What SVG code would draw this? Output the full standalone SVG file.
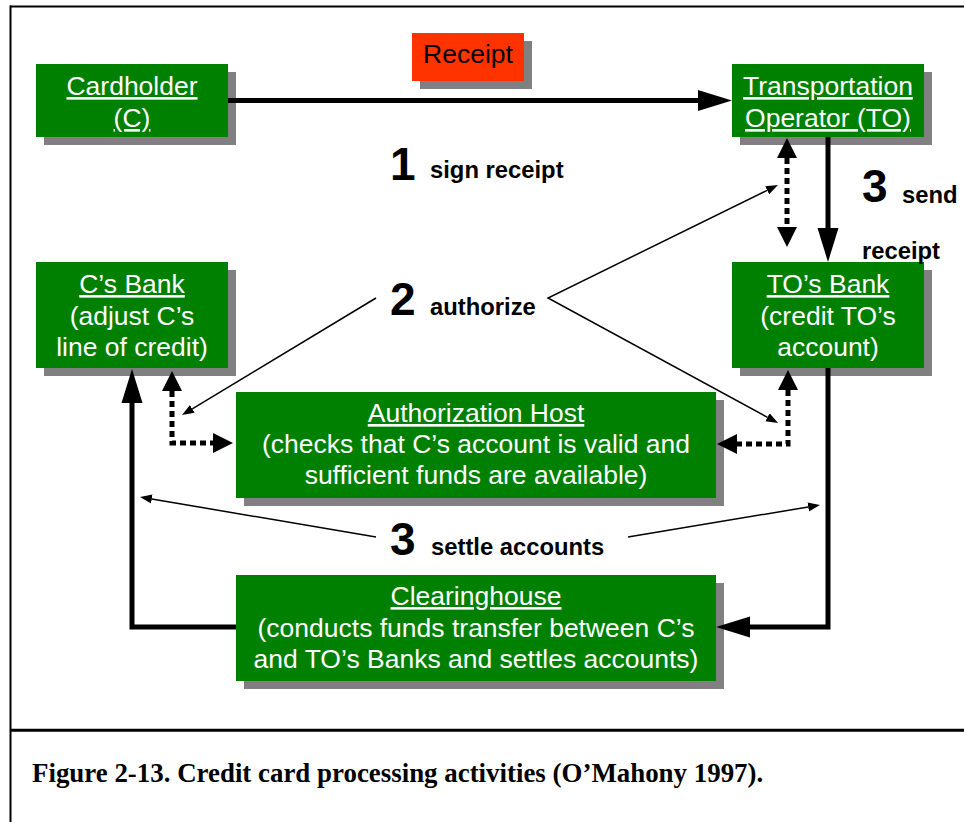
<svg xmlns="http://www.w3.org/2000/svg" width="964" height="822" viewBox="0 0 964 822">
  <style>
    .box { fill: #008000; }
    .shadow { fill: #808080; }
    .receipt { fill: #ff3300; }
    .nt { font-family: "Liberation Sans", Arial, sans-serif; font-size: 26.5px; fill: #ffffff; text-anchor: middle; }
    .u { text-decoration: underline; }
    .big { font-family: "Liberation Sans", Arial, sans-serif; font-weight: bold; font-size: 46px; fill: #000000; }
    .lbl { font-family: "Liberation Sans", Arial, sans-serif; font-weight: bold; font-size: 23.8px; fill: #000000; }
    .cap { font-family: "Liberation Serif", "Times New Roman", serif; font-weight: bold; font-size: 26.9px; fill: #000000; }
    .thick { fill: none; stroke: #000000; stroke-width: 5; }
    .dotted { fill: none; stroke: #000000; stroke-width: 5; stroke-dasharray: 6 4; }
    .thin { fill: none; stroke: #000000; stroke-width: 1.5; }
    .frame { fill: none; stroke: #000000; }
  </style>
  <defs>
    <marker id="bigHead" markerUnits="userSpaceOnUse" markerWidth="36" markerHeight="24" viewBox="0 -12 36 24" refX="0" refY="0" orient="auto-start-reverse">
      <path d="M0,-10.5 L34,0 L0,10.5 z" fill="#000000"/>
    </marker>
    <marker id="dotHead" markerUnits="userSpaceOnUse" markerWidth="22" markerHeight="22" viewBox="0 -11 22 22" refX="0" refY="0" orient="auto-start-reverse">
      <path d="M0,-10 L20,0 L0,10 z" fill="#000000"/>
    </marker>
    <marker id="thinHead" markerUnits="userSpaceOnUse" markerWidth="14" markerHeight="12" viewBox="0 -6 14 12" refX="0" refY="0" orient="auto-start-reverse">
      <path d="M0,-4.5 L12,0 L0,4.5 z" fill="#000000"/>
    </marker>
  </defs>

  <rect width="964" height="822" fill="#ffffff"/>

  <!-- page frame and caption separator -->
  <g id="frame">
    <line class="frame" x1="10" y1="6.5" x2="964" y2="6.5" stroke-width="2"/>
    <line class="frame" x1="10.5" y1="5.5" x2="10.5" y2="822" stroke-width="2"/>
    <line class="frame" x1="10" y1="730.3" x2="964" y2="730.3" stroke-width="3"/>
  </g>

  <g id="receipt">
    <rect class="shadow" x="420" y="41" width="112" height="48"/>
    <rect class="receipt" x="412" y="33" width="112" height="48"/>
    <text x="468" y="63" font-family="Liberation Sans, Arial, sans-serif" font-size="26.5" text-anchor="middle" fill="#000000">Receipt</text>
  </g>

  <g id="cardholder">
    <rect class="shadow" x="44" y="72" width="192" height="73"/>
    <rect class="box" x="36" y="64" width="192" height="73"/>
    <text class="nt u" x="132" y="95">Cardholder</text>
    <text class="nt u" x="132" y="127">(C)</text>
  </g>

  <g id="transport-operator">
    <rect class="shadow" x="740" y="72" width="192" height="73"/>
    <rect class="box" x="732" y="64" width="192" height="73"/>
    <text class="nt u" x="828" y="95">Transportation</text>
    <text class="nt u" x="828" y="127">Operator (TO)</text>
  </g>

  <g id="cs-bank">
    <rect class="shadow" x="44" y="270" width="192" height="106"/>
    <rect class="box" x="36" y="262" width="192" height="106"/>
    <text class="nt u" x="132" y="293">C’s Bank</text>
    <text class="nt" x="132" y="324.5">(adjust C’s</text>
    <text class="nt" x="132" y="356">line of credit)</text>
  </g>

  <g id="tos-bank">
    <rect class="shadow" x="740" y="270" width="192" height="106"/>
    <rect class="box" x="732" y="262" width="192" height="106"/>
    <text class="nt u" x="828" y="293">TO’s Bank</text>
    <text class="nt" x="828" y="324.5">(credit TO’s</text>
    <text class="nt" x="828" y="356">account)</text>
  </g>

  <g id="authorization-host">
    <rect class="shadow" x="244" y="400" width="480" height="106"/>
    <rect class="box" x="236" y="392" width="480" height="106"/>
    <text class="nt u" x="476" y="422">Authorization Host</text>
    <text class="nt" x="476" y="453">(checks that C’s account is valid and</text>
    <text class="nt" x="476" y="484">sufficient funds are available)</text>
  </g>

  <g id="clearinghouse">
    <rect class="shadow" x="244" y="583" width="480" height="106"/>
    <rect class="box" x="236" y="575" width="480" height="106"/>
    <text class="nt u" x="476" y="605">Clearinghouse</text>
    <text class="nt" x="476" y="637">(conducts funds transfer between C’s</text>
    <text class="nt" x="476" y="668">and TO’s Banks and settles accounts)</text>
  </g>

  <!-- connectors -->
  <g id="connectors">
    <path class="thick" d="M228,100.5 H698" marker-end="url(#bigHead)"/>
    <path class="thick" d="M828,137 V228" marker-end="url(#bigHead)"/>
    <path class="thick" d="M828,368 V627 H750" marker-end="url(#bigHead)"/>
    <path class="thick" d="M236,627 H132 V403" marker-end="url(#bigHead)"/>

    <path class="dotted" d="M787,158 V227" marker-start="url(#dotHead)" marker-end="url(#dotHead)"/>
    <path class="dotted" d="M172,391 V443 H213" marker-start="url(#dotHead)" marker-end="url(#dotHead)"/>
    <path class="dotted" d="M788,390 V444 H737" marker-start="url(#dotHead)" marker-end="url(#dotHead)"/>

    <path class="thin" d="M376,298 L192.3,408.8" marker-end="url(#thinHead)"/>
    <path class="thin" d="M767.2,190.3 L548,298 L767.5,417.3" marker-start="url(#thinHead)" marker-end="url(#thinHead)"/>
    <path class="thin" d="M376,537 L151.8,499" marker-end="url(#thinHead)"/>
    <path class="thin" d="M628,537 L808.2,507" marker-end="url(#thinHead)"/>
  </g>

  <!-- step labels -->
  <g id="labels">
    <text class="big" x="390" y="180">1</text>
    <text class="lbl" x="430" y="178">sign receipt</text>
    <text class="big" x="390" y="315">2</text>
    <text class="lbl" x="430" y="315">authorize</text>
    <text class="big" x="862" y="202">3</text>
    <text class="lbl" x="902" y="203">send</text>
    <text class="lbl" x="862" y="259">receipt</text>
    <text class="big" x="390" y="555">3</text>
    <text class="lbl" x="431" y="555">settle accounts</text>
  </g>

  <text class="cap" x="32" y="782">Figure 2-13. Credit card processing activities (O’Mahony 1997).</text>
</svg>
